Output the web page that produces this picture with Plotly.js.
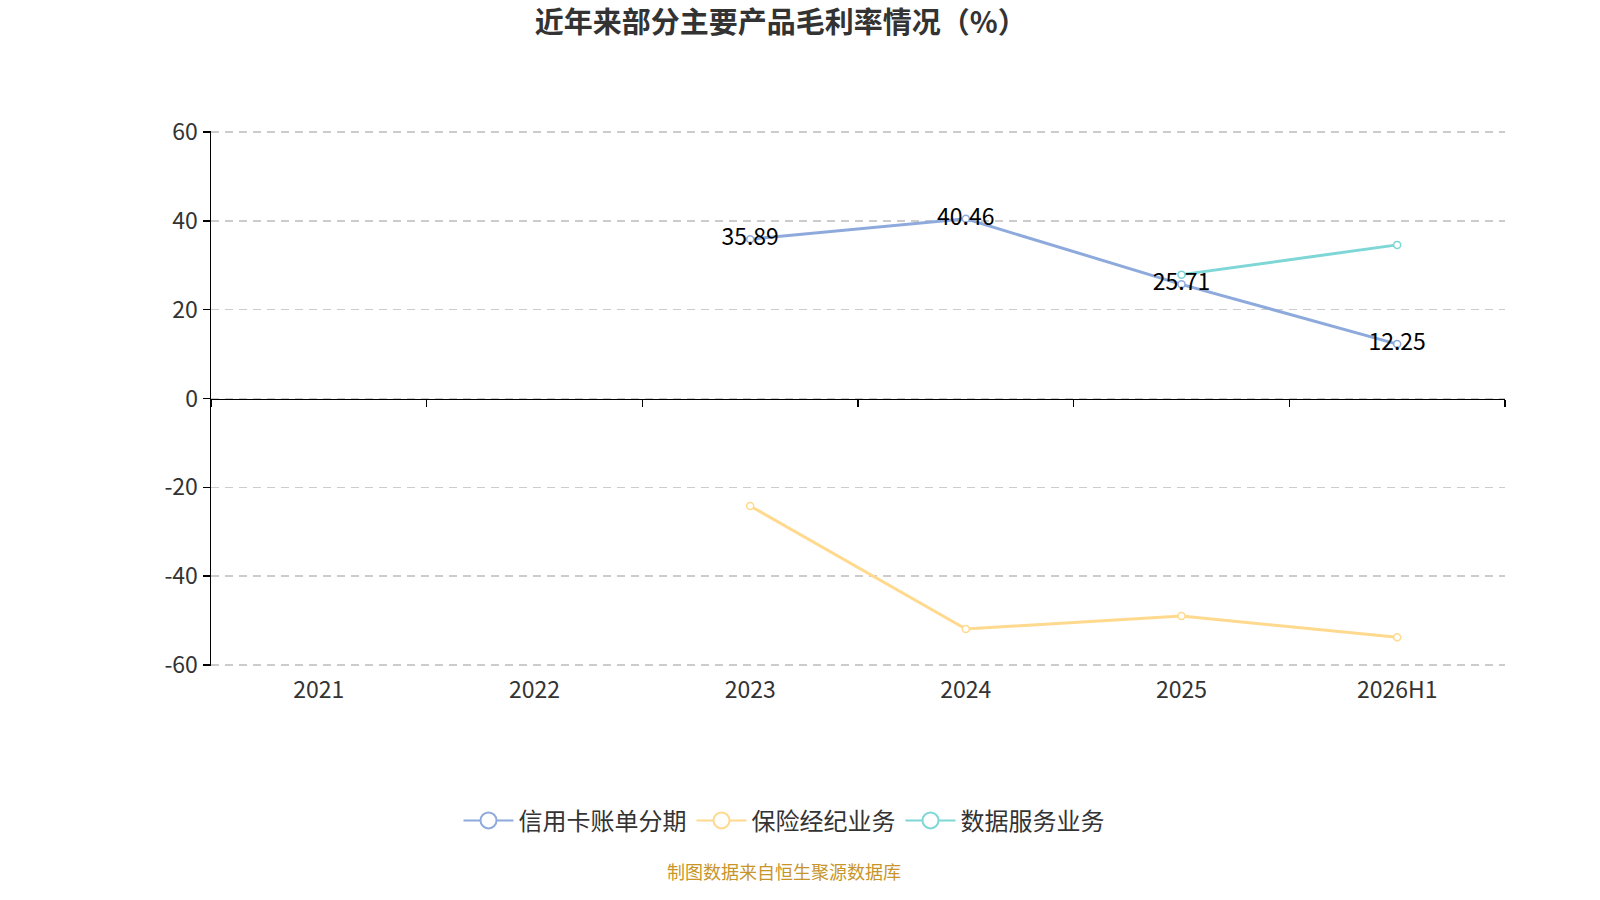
<!DOCTYPE html>
<html>
<head>
<meta charset="utf-8">
<script src="https://cdn.plot.ly/plotly-3.0.1.min.js"></script>
<style>
  html, body { margin: 0; padding: 0; background: #fff; }
  #chart { width: 1600px; height: 900px; }
</style>
</head>
<body>
<div id="chart"></div>
<script>
// categories and values
const years = ["2021", "2022", "2023", "2024", "2025", "2026H1"];
const creditCard = [null, null, 35.89, 40.46, 25.71, 12.25];
const insurance = [null, null, -24.2, -51.9, -49.0, -53.8];
const dataService = [null, null, null, null, 27.9, 34.6];

const yTicks = [-60, -40, -20, 0, 20, 40, 60];
const yTickText = ["-60", "-40", "-20", "0", "20", "40", "60"];

const seriesNames = ["信用卡账单分期", "保险经纪业务", "数据服务业务"];
const seriesColors = ["#8eaadc", "#ffd98e", "#7fd6d6"];
const FONT = "'Noto Sans CJK SC', 'Noto Sans', sans-serif";


function lineTrace(values, i, withLabels) {
    let t = {
        x: years,
        y: values,
        name: seriesNames[i],
        type: 'scatter',
        mode: withLabels ? 'lines+markers+text' : 'lines+markers',
        line: { color: seriesColors[i], width: 3 },
        marker: { symbol: 'circle', size: 7, color: '#fff', line: { color: seriesColors[i], width: 1.5 } },
        connectgaps: false,
        cliponaxis: false,
        showlegend: false
    };
    if (withLabels) {
        t.text = values.map(v => v === null ? '' : v.toFixed(2));
        t.textposition = 'middle center';
        t.textfont = { family: FONT, size: 23, color: '#000' };
    }
    return t;
}


// legend-only entries, so the legend gets a thin line and a big hollow circle
function legendTrace(i) {
    return {
        x: [years[0]],
        y: [null],
        name: seriesNames[i],
        type: 'scatter',
        mode: 'lines+markers',
        line: { color: seriesColors[i], width: 2 },
        marker: { symbol: 'circle', size: 22, color: '#fff', line: { color: seriesColors[i], width: 2 } },
        hoverinfo: 'skip'
    };
}


function dataset() {
    let traces = [
        lineTrace(insurance, 1, false),
        lineTrace(dataService, 2, false),
        lineTrace(creditCard, 0, true),
        legendTrace(0),
        legendTrace(1),
        legendTrace(2)
    ];

    // invisible trace so the zero-crossing axis with boundary ticks is drawn
    traces.push({
        x: years, y: years.map(() => null), xaxis: 'x2', type: 'scatter',
        mode: 'lines', showlegend: false, hoverinfo: 'skip'
    });
    return traces;
}


function makeLayout() {
    return {
        width: 1600,
        height: 900,
        paper_bgcolor: '#fff',
        plot_bgcolor: '#fff',
        margin: { l: 211, r: 95, t: 131, b: 234 },
        font: { family: FONT, color: '#333' },
        title: {
            text: '<b>近年来部分主要产品毛利率情况（%）</b>',
            font: { family: FONT, size: 29, color: '#333' },
            xref: 'container', x: 0.488, xanchor: 'center',
            yref: 'container', y: 0.975, yanchor: 'middle'
        },
        xaxis: {
            type: 'category',
            categoryarray: years,
            range: [-0.5, 5.5],
            showline: false,
            showgrid: false,
            zeroline: false,
            ticks: '',
            tickfont: { family: FONT, size: 23, color: '#333' },
            ticklabelstandoff: 8
        },
        xaxis2: {
            type: 'category',
            categoryarray: years,
            range: [-0.5, 5.5],
            overlaying: 'x',
            anchor: 'free',
            position: 0.5,
            showline: true,
            linecolor: '#000',
            linewidth: 1.5,
            ticks: 'outside',
            tickson: 'boundaries',
            ticklen: 7,
            tickcolor: '#000',
            tickwidth: 1.5,
            showticklabels: false,
            showgrid: false,
            zeroline: false
        },
        yaxis: {
            range: [-60.25, 60.25],
            tickvals: yTicks,
            ticktext: yTickText,
            showline: true,
            linecolor: '#000',
            linewidth: 1.5,
            ticks: 'outside',
            ticklen: 7,
            tickcolor: '#000',
            tickwidth: 1.5,
            showgrid: true,
            gridcolor: '#cccccc',
            gridwidth: 1.5,
            griddash: '8px,6px',
            zeroline: false,
            tickfont: { family: FONT, size: 23, color: '#333' }
        },
        showlegend: true,
        legend: {
            orientation: 'h',
            xref: 'container', x: 0.49, xanchor: 'center',
            yref: 'container', y: 0.088, yanchor: 'middle',
            font: { family: FONT, size: 24, color: '#333' },
            itemsizing: 'trace',
            itemwidth: 50,
            traceorder: 'normal'
        },
        annotations: [{
            text: '制图数据来自恒生聚源数据库',
            xref: 'paper', yref: 'paper',
            x: (784 - 211) / 1294, y: (666 - 871) / 535,
            xanchor: 'center', yanchor: 'middle',
            showarrow: false,
            font: { family: FONT, size: 18, color: '#c8952a' }
        }]
    };
}


Plotly.newPlot('chart', dataset(), makeLayout(), { staticPlot: true });
</script>
</body>
</html>
